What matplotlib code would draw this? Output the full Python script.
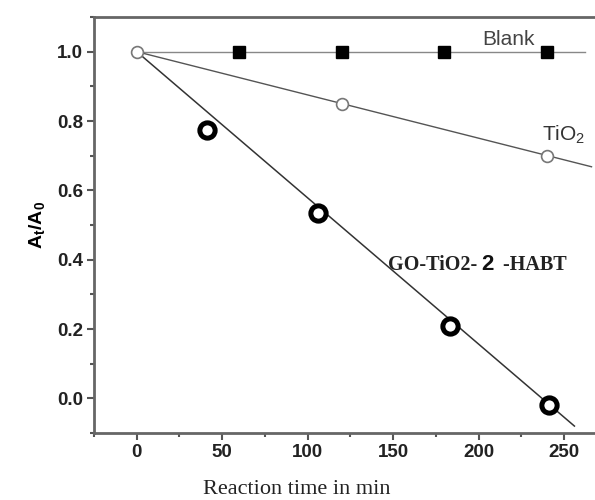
import matplotlib
matplotlib.use("Agg")
import matplotlib.pyplot as plt
import numpy as np
from matplotlib.ticker import MultipleLocator, FormatStrFormatter
from matplotlib.offsetbox import TextArea, HPacker, AnnotationBbox

# Data
blank_x = [0, 60, 120, 180, 240]
blank_y = [1.0, 1.0, 1.0, 1.0, 1.0]
tio2_x = [0, 120, 240]
tio2_y = [1.0, 0.85, 0.70]
go_x = [41, 106, 183, 241]
go_y = [0.775, 0.535, 0.21, -0.02]
fit_blank = (0, 262, 1.0, 1.0)
fit_tio2 = (0, 266, 1.0, 0.668)
fit_go = (0, 256, 1.0, -0.08)
xticks = [0, 50, 100, 150, 200, 250]
yticks = [0.0, 0.2, 0.4, 0.6, 0.8, 1.0]

fig = plt.figure(figsize=(5.95, 5.0), dpi=100)
ax = fig.add_axes([94/595, 67/500, 1.02 - 94/595, 416/500])

ax.plot(fit_blank[:2], fit_blank[2:], color='#888888', lw=1.0, zorder=1)
ax.plot(fit_tio2[:2], fit_tio2[2:], color='#555555', lw=1.0, zorder=1)
ax.plot(fit_go[:2], fit_go[2:], color='#333333', lw=1.1, zorder=1)

ax.plot(blank_x[1:], blank_y[1:], 's', color='black', ms=8, zorder=3, ls='none')
ax.plot(tio2_x, tio2_y, 'o', mfc='white', mec='#777777', mew=1.2, ms=8.5, zorder=3, ls='none')
ax.plot(go_x, go_y, 'o', mfc='white', mec='black', mew=3.6, ms=11, zorder=3, ls='none')

ax.set_xlim(-25, 275)
ax.set_ylim(-0.1, 1.1)
ax.set_xticks(xticks)
ax.set_yticks(yticks)
ax.xaxis.set_minor_locator(MultipleLocator(25))
ax.yaxis.set_minor_locator(MultipleLocator(0.1))
ax.yaxis.set_major_formatter(FormatStrFormatter('%.1f'))
ax.tick_params(which='both', direction='out', color='#555555', width=1.5, pad=3)
ax.tick_params(which='major', length=5)
ax.tick_params(which='minor', length=3)
for lab in ax.get_xticklabels() + ax.get_yticklabels():
    lab.set_fontfamily('Liberation Sans')
    lab.set_fontweight('bold')
    lab.set_fontsize(13.5)
    lab.set_color('#222222')

for s in ['left', 'bottom', 'top']:
    ax.spines[s].set_color('#666666')
    ax.spines[s].set_linewidth(2)
ax.spines['right'].set_visible(False)

ax.text(233, 1.035, 'Blank', fontsize=15, family='Liberation Sans', color='#444444', ha='right', va='center')
ax.text(237, 0.76, 'TiO$_\\mathregular{2}$', fontsize=15, family='Liberation Sans', color='#333333', ha='left', va='center')

ta1 = TextArea('GO-TiO2-', textprops=dict(fontsize=14.5, family='Liberation Serif', fontweight='bold', color='#222222'))
ta2 = TextArea('2', textprops=dict(fontsize=16, family='Liberation Sans', fontweight='bold', color='#111111'))
ta3 = TextArea(' -HABT', textprops=dict(fontsize=14.5, family='Liberation Serif', fontweight='bold', color='#222222'))
pack = HPacker(children=[ta1, ta2, ta3], align='baseline', pad=0, sep=3)
ab = AnnotationBbox(pack, (147, 0.385), xycoords='data', box_alignment=(0, 0.5), frameon=False)
ax.add_artist(ab)

ax.set_ylabel('A$_\\mathregular{t}$/A$_\\mathregular{0}$', fontsize=14, family='Liberation Sans', fontweight='bold', labelpad=6)
fig.text(297/595, 10/500, 'Reaction time in min', fontsize=16, family='Liberation Serif', color='#222222', ha='center', va='center')

fig.savefig('out.png', dpi=100)
